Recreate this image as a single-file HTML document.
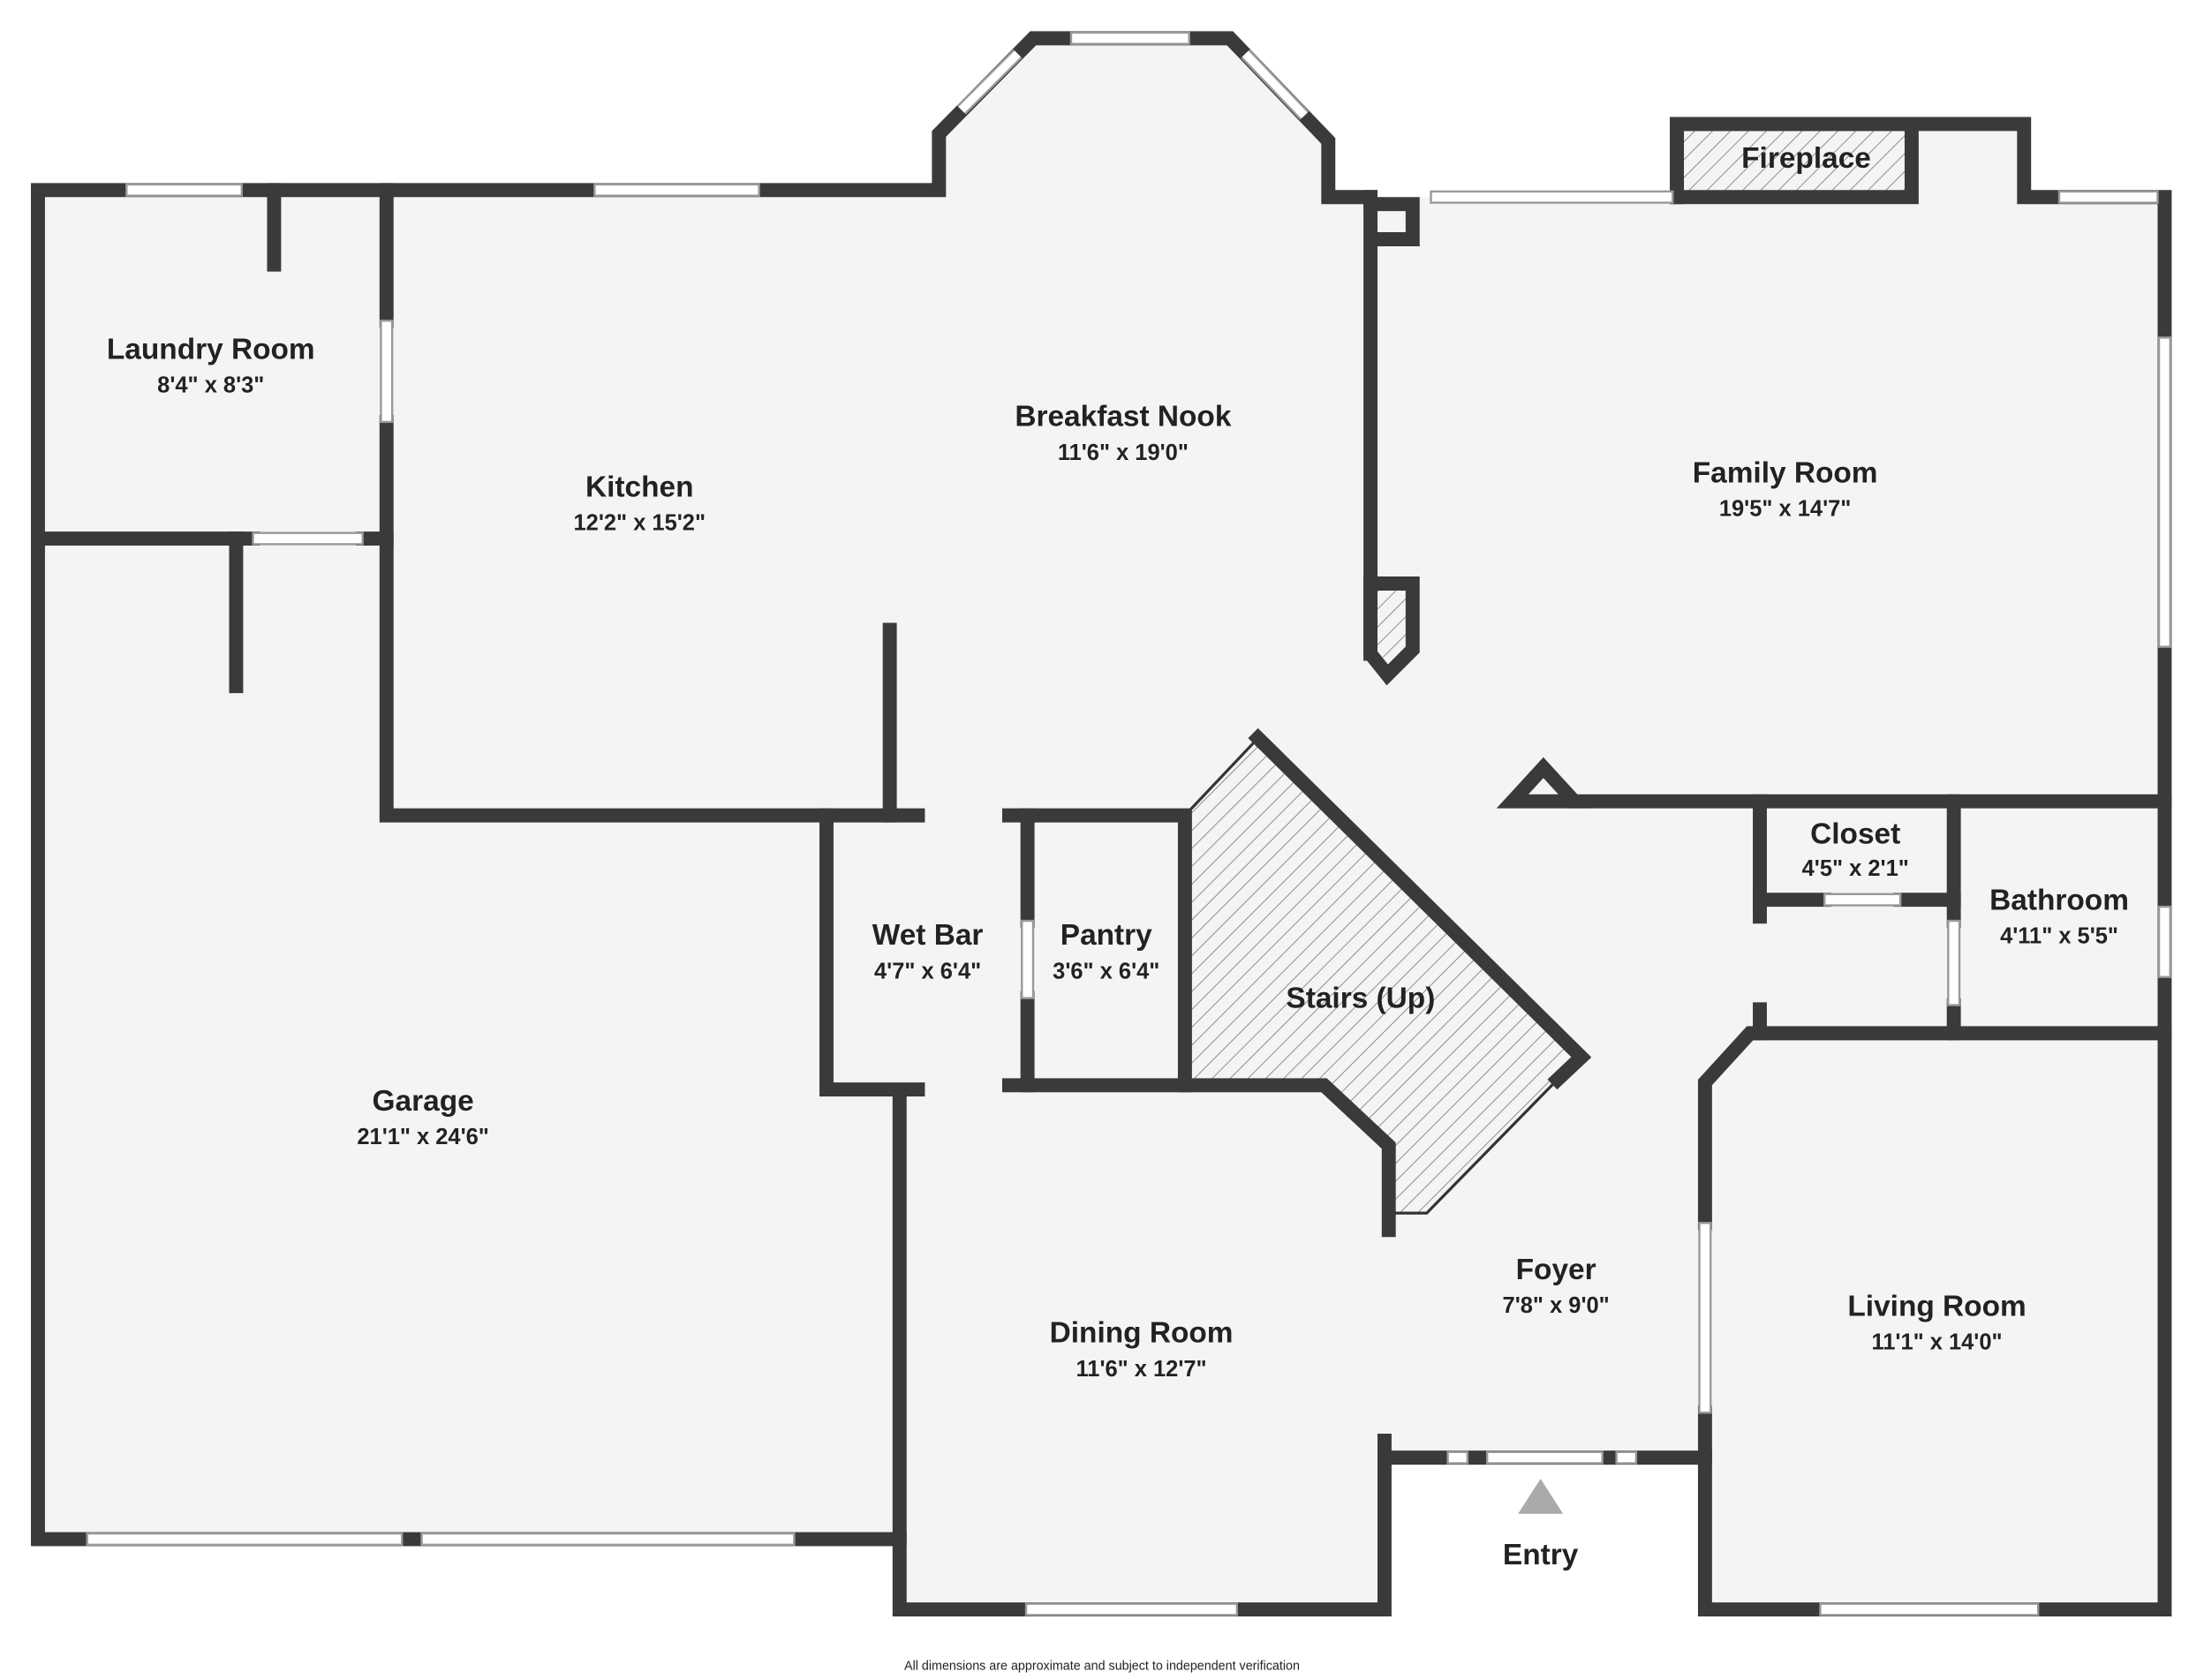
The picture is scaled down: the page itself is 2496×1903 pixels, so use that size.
<!DOCTYPE html>
<html><head><meta charset="utf-8"><style>
html,body{margin:0;padding:0;background:#fff;}
svg{display:block;}
text{font-family:"Liberation Sans",sans-serif;font-weight:bold;fill:#222;text-anchor:middle;}
text.foot{font-weight:normal;}
</style></head><body>
<svg width="2496" height="1903" viewBox="0 0 1568 1195" xmlns="http://www.w3.org/2000/svg">
<defs>
<pattern id="h" width="9" height="9" patternUnits="userSpaceOnUse" patternTransform="rotate(45)">
<rect width="9" height="9" fill="#f4f4f4"/><line x1="0" y1="0" x2="0" y2="9" stroke="#888" stroke-width="1.2"/></pattern>
</defs>
<rect width="1568" height="1195" fill="#fff"/>
<polygon fill="#f4f4f4" points="27,135 668,135 668,95 735,27 875,27 945,100 945,140 1193,140 1193,88 1440,88 1440,140 1540,140 1540,1145 1213,1145 1213,1037 985,1037 985,1145 640,1145 640,1095 27,1095"/>
<polygon fill="url(#h)" stroke="#333" stroke-width="2" points="843,580 895,525 1125,752 1108,768 1015,863 988,863 988,815 942,772 843,772"/>
<rect x="1198" y="93" width="158" height="43" fill="url(#h)"/>
<polygon fill="url(#h)" points="980,418 1005,418 1005,462 992,478 980,462"/>
<g fill="none" stroke="#3a3a3a" stroke-width="10" stroke-linejoin="miter" stroke-linecap="square">
<polyline points="27,383 27,1095 640,1095"/>
<polyline points="27,383 27,135 668,135 668,95 735,27 875,27 945,100 945,140 975,140"/>
<polyline points="640,778 640,1145 985,1145 985,1025"/>
<polyline points="985,1037 1213,1037"/>
<polyline points="1213,1005 1213,1145 1540,1145 1540,140 1440,140 1440,88 1193,88 1193,140"/>
<rect x="1193" y="88" width="167" height="52"/>
<polyline points="1213,870 1213,770 1245,735 1540,735"/>
<polyline points="275,135 275,228"/><polyline points="275,300 275,580 653,580"/>
<polyline points="27,383 180,383"/><polyline points="258,383 275,383"/>
<polyline points="195,135 195,188"/><polyline points="168,383 168,488"/>
<polyline points="633,448 633,580"/>
<polyline points="588,580 588,775 653,775"/>
<polyline points="718,580 843,580 843,772"/>
<polyline points="731,580 731,655"/><polyline points="731,710 731,772"/>
<polyline points="718,772 942,772 988,815 988,875"/>
<polyline points="895,525 1125,752 1108,768"/>
<polyline points="975,140 975,465"/>
<polyline points="975,145 1005,145 1005,170 980,170"/>
<polyline points="980,415 1005,415 1005,462 987,480 975,465 975,415"/>
<polyline points="1120,570 1540,570"/>
<polygon points="1076,570 1098,546 1120,570"/>
<polyline points="1252,570 1252,652"/>
<polyline points="1252,640 1298,640"/><polyline points="1352,640 1390,640"/>
<polyline points="1390,570 1390,655"/><polyline points="1390,715 1390,735"/>
<polyline points="1252,718 1252,735"/>
</g>
<g stroke-linecap="butt">
<line x1="684" y1="78" x2="724" y2="38" stroke="#999" stroke-width="9"/>
<line x1="684" y1="78" x2="724" y2="38" stroke="#fff" stroke-width="6"/>
<line x1="886" y1="38" x2="928" y2="82" stroke="#999" stroke-width="9"/>
<line x1="886" y1="38" x2="928" y2="82" stroke="#fff" stroke-width="6"/>
</g>
<g fill="#fff" stroke="#999" stroke-width="1.5">
<rect x="90" y="131" width="82" height="8"/>
<rect x="423" y="131" width="117" height="8"/>
<rect x="762" y="23" width="84" height="8"/>
<rect x="1018" y="136" width="172" height="8"/>
<rect x="1465" y="136" width="70" height="8"/>
<rect x="1536" y="240" width="8" height="220"/>
<rect x="1536" y="645" width="8" height="50"/>
<rect x="271" y="228" width="8" height="72"/>
<rect x="180" y="379" width="78" height="8"/>
<rect x="62" y="1091" width="224" height="8"/>
<rect x="300" y="1091" width="265" height="8"/>
<rect x="730" y="1141" width="150" height="8"/>
<rect x="1295" y="1141" width="155" height="8"/>
<rect x="1209" y="870" width="8" height="135"/>
<rect x="1058" y="1033" width="82" height="8"/>
<rect x="1030" y="1033" width="14" height="8"/><rect x="1150" y="1033" width="14" height="8"/>
<rect x="727" y="655" width="8" height="55"/>
<rect x="1298" y="636" width="54" height="8"/>
<rect x="1386" y="655" width="8" height="60"/>
</g>
<polygon points="1080,1077 1096,1052 1112,1077" fill="#aaa"/>
<g font-size="21">
<text x="150" y="255">Laundry Room</text>
<text x="455" y="353">Kitchen</text>
<text x="799" y="303">Breakfast Nook</text>
<text x="1270" y="343">Family Room</text>
<text x="1285" y="119">Fireplace</text>
<text x="1320" y="600">Closet</text>
<text x="1465" y="647">Bathroom</text>
<text x="660" y="672">Wet Bar</text>
<text x="787" y="672">Pantry</text>
<text x="968" y="717">Stairs (Up)</text>
<text x="301" y="790">Garage</text>
<text x="1107" y="910">Foyer</text>
<text x="812" y="955">Dining Room</text>
<text x="1378" y="936">Living Room</text>
<text x="1096" y="1113">Entry</text>
</g>
<g font-size="16">
<text x="150" y="279">8'4" x 8'3"</text>
<text x="455" y="377">12'2" x 15'2"</text>
<text x="799" y="327">11'6" x 19'0"</text>
<text x="1270" y="367">19'5" x 14'7"</text>
<text x="1320" y="623">4'5" x 2'1"</text>
<text x="1465" y="671">4'11" x 5'5"</text>
<text x="660" y="696">4'7" x 6'4"</text>
<text x="787" y="696">3'6" x 6'4"</text>
<text x="301" y="814">21'1" x 24'6"</text>
<text x="1107" y="934">7'8" x 9'0"</text>
<text x="812" y="979">11'6" x 12'7"</text>
<text x="1378" y="960">11'1" x 14'0"</text>
</g>
<text class="foot" x="784" y="1188" font-size="9" fill="#333">All dimensions are approximate and subject to independent verification</text>
</svg>
</body></html>
